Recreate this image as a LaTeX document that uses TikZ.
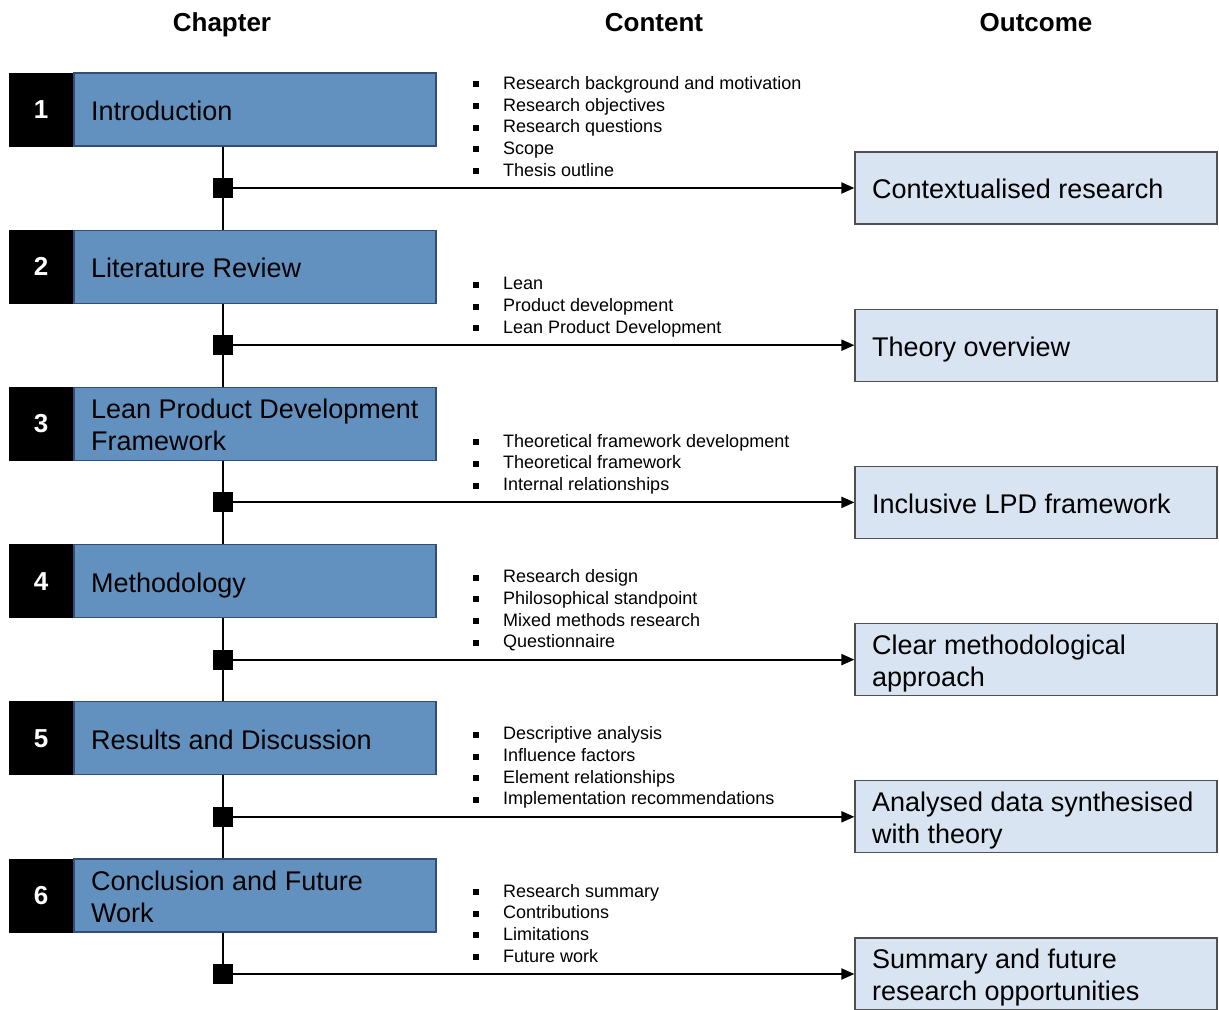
\documentclass[tikz,border=0pt]{standalone}
\usepackage{fontspec}
\setmainfont{Liberation Sans}
\usetikzlibrary{arrows.meta}

\definecolor{chapblue}{RGB}{98,145,192}
\definecolor{chapedge}{RGB}{50,78,118}
\definecolor{outfill}{RGB}{216,228,241}
\definecolor{outedge}{RGB}{80,80,80}

\newcommand\twolines[1]{\begin{tabular}[t]{@{}l@{}}#1\end{tabular}}
\newcommand\bul{\rule[2pt]{6pt}{6pt}\hspace{24pt}}

\tikzset{
  numbox/.style={fill=black, draw=black, line width=1pt, minimum width=64pt, minimum height=73pt,
    inner sep=0pt, text=white, font=\fontsize{26}{30}\selectfont\bfseries},
  chapbox/.style={fill=chapblue, draw=chapedge, line width=1.2pt, minimum width=362pt,
    minimum height=73pt, inner sep=0pt},
  outbox/.style={fill=outfill, draw=outedge, line width=1.2pt, minimum width=362pt,
    minimum height=72pt, inner sep=0pt},
  bigtext/.style={anchor=base west, inner sep=0pt, font=\fontsize{27}{32}\selectfont, yshift=-1.2pt},
  item/.style={anchor=base west, inner sep=0pt, font=\fontsize{18}{21.7}\selectfont, yshift=-1.6pt},
  head/.style={anchor=base, inner sep=0pt, font=\fontsize{26}{30}\selectfont\bfseries},
  marker/.style={fill=black, minimum size=20pt, inner sep=0pt},
  spine/.style={line width=2pt},
  link/.style={line width=2pt, -{Triangle[length=13pt,width=11pt]}},
}

\begin{document}
\begin{tikzpicture}[x=1pt,y=-1pt]
\useasboundingbox (0,0) rectangle (1219,1010);

% column headings
\node[head] (hchap) at (222,31.5) {Chapter};
\node[head] (hcont) at (654,31.5) {Content};
\node[head] (hout)  at (1036,31.5) {Outcome};

% ---------- chapter 1 (top 73) ----------
\node[numbox]  (n1)  at (41,109.5) {1};
\node[chapbox] (ch1) at (255,109.5) {};
\node[bigtext] (ch1t) at (91,119.2) {Introduction};
\node[marker]  (sq1) at (223,188) {};
\node[outbox]  (out1) at (1036,188) {};
\node[bigtext] (out1t) at (872,197.7) {Contextualised research};
\foreach \t [count=\i] in {Research background and motivation, Research objectives,
  Research questions, Scope, Thesis outline}
  \node[item] (c1-\i) at (473,{174.5-21.7*(5-\i)}) {\bul\t};

% ---------- chapter 2 (top 230.2) ----------
\node[numbox]  (n2)  at (41,266.7) {2};
\node[chapbox] (ch2) at (255,266.7) {};
\node[bigtext] (ch2t) at (91,276.4) {Literature Review};
\node[marker]  (sq2) at (223,345.2) {};
\node[outbox]  (out2) at (1036,345.2) {};
\node[bigtext] (out2t) at (872,354.9) {Theory overview};
\foreach \t [count=\i] in {Lean, Product development, Lean Product Development}
  \node[item] (c2-\i) at (473,{331.7-21.7*(3-\i)}) {\bul\t};

% ---------- chapter 3 (top 387.4) ----------
\node[numbox]  (n3)  at (41,423.9) {3};
\node[chapbox] (ch3) at (255,423.9) {};
\node[bigtext] (ch3t) at (91,417.6) {\twolines{Lean Product Development\\Framework}};
\node[marker]  (sq3) at (223,502.4) {};
\node[outbox]  (out3) at (1036,502.4) {};
\node[bigtext] (out3t) at (872,512.1) {Inclusive LPD framework};
\foreach \t [count=\i] in {Theoretical framework development, Theoretical framework,
  Internal relationships}
  \node[item] (c3-\i) at (473,{488.9-21.7*(3-\i)}) {\bul\t};

% ---------- chapter 4 (top 544.6) ----------
\node[numbox]  (n4)  at (41,581.1) {4};
\node[chapbox] (ch4) at (255,581.1) {};
\node[bigtext] (ch4t) at (91,590.8) {Methodology};
\node[marker]  (sq4) at (223,659.6) {};
\node[outbox]  (out4) at (1036,659.6) {};
\node[bigtext] (out4t) at (872,653.3) {\twolines{Clear methodological\\approach}};
\foreach \t [count=\i] in {Research design, Philosophical standpoint,
  Mixed methods research, Questionnaire}
  \node[item] (c4-\i) at (473,{646.1-21.7*(4-\i)}) {\bul\t};

% ---------- chapter 5 (top 701.8) ----------
\node[numbox]  (n5)  at (41,738.3) {5};
\node[chapbox] (ch5) at (255,738.3) {};
\node[bigtext] (ch5t) at (91,748.0) {Results and Discussion};
\node[marker]  (sq5) at (223,816.8) {};
\node[outbox]  (out5) at (1036,816.8) {};
\node[bigtext] (out5t) at (872,810.5) {\twolines{Analysed data synthesised\\with theory}};
\foreach \t [count=\i] in {Descriptive analysis, Influence factors,
  Element relationships, Implementation recommendations}
  \node[item] (c5-\i) at (473,{803.3-21.7*(4-\i)}) {\bul\t};

% ---------- chapter 6 (top 859) ----------
\node[numbox]  (n6)  at (41,895.5) {6};
\node[chapbox] (ch6) at (255,895.5) {};
\node[bigtext] (ch6t) at (91,889.2) {\twolines{Conclusion and Future\\Work}};
\node[marker]  (sq6) at (223,974) {};
\node[outbox]  (out6) at (1036,974) {};
\node[bigtext] (out6t) at (872,967.7) {\twolines{Summary and future\\research opportunities}};
\foreach \t [count=\i] in {Research summary, Contributions, Limitations, Future work}
  \node[item] (c6-\i) at (473,{960.5-21.7*(4-\i)}) {\bul\t};

% spine joining the chapters
\foreach \a/\b in {1/2,2/3,3/4,4/5,5/6}
  \draw[spine] (ch\a.south -| sq\a.center) -- (ch\b.north -| sq\a.center);
\draw[spine] (ch6.south -| sq6.center) -- (sq6.center);

% arrows from each chapter to its outcome
\foreach \k in {1,...,6}
  \draw[link] (sq\k.east) -- (out\k.west);

\end{tikzpicture}
\end{document}
